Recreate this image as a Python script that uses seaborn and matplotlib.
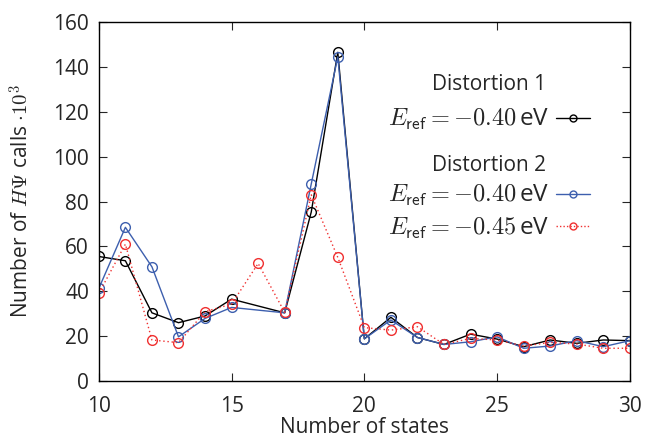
import matplotlib
matplotlib.use("Agg")
import matplotlib.pyplot as plt
import seaborn as sns
import numpy as np
from matplotlib.lines import Line2D

states_d1 = [10, 11, 12, 13, 14, 15, 17, 18, 19, 20, 21, 22, 23, 24, 25, 26, 27, 28, 29, 30]
calls_d1 = [55.5, 53.6, 30.4, 26.0, 29.0, 36.5, 30.4, 75.3, 146.5, 18.8, 28.4, 19.4, 16.3, 20.9, 18.7, 15.3, 18.3, 16.8, 18.3, 18.0]

states_d2a = [10, 11, 12, 13, 14, 15, 17, 18, 19, 20, 21, 22, 23, 24, 25, 26, 27, 28, 29, 30]
calls_d2a = [41.3, 68.5, 50.9, 19.7, 27.9, 32.8, 30.4, 87.8, 144.5, 18.8, 27.2, 19.4, 16.3, 17.5, 19.7, 14.6, 15.6, 18.0, 15.3, 18.0]

states_d2b = [10, 11, 12, 13, 14, 15, 16, 17, 18, 19, 20, 21, 22, 23, 24, 25, 26, 27, 28, 29, 30]
calls_d2b = [39.1, 61.0, 18.3, 17.1, 30.9, 34.3, 52.4, 30.6, 83.0, 55.1, 23.8, 22.7, 24.2, 16.3, 19.0, 18.3, 15.6, 17.2, 16.5, 14.6, 14.6]

label_d1 = r"$E_{\mathsf{ref}} = -0.40\,$eV"
label_d2a = r"$E_{\mathsf{ref}} = -0.40\,$eV"
label_d2b = r"$E_{\mathsf{ref}} = -0.45\,$eV"

sns.set_style("ticks")
plt.rcParams["font.family"] = ["Open Sans", "DejaVu Sans"]
plt.rcParams["mathtext.fontset"] = "cm"

fig = plt.figure(figsize=(6.46, 4.40), dpi=100)
ax = fig.add_axes([0.153, 0.134, 0.822, 0.816])

black = "#000000"
blue = "#3d5fae"
red = "#f03030"

mk = dict(marker="o", markersize=7, mfc="none", mew=1.0)
sns.lineplot(x=states_d1, y=calls_d1, ax=ax, color=black, lw=1.0, mec=black, **mk)
sns.lineplot(x=states_d2a, y=calls_d2a, ax=ax, color=blue, lw=1.0, mec=blue, **mk)
sns.lineplot(x=states_d2b, y=calls_d2b, ax=ax, color=red, lw=1.0, ls=(0, (1, 2)), mec=red, **mk)

ax.set_xlim(10, 30)
ax.set_ylim(0, 160)
ax.set_xticks([10, 15, 20, 25, 30])
ax.set_yticks(np.arange(0, 161, 20))
ax.tick_params(direction="in", top=True, right=True, length=6, width=0.8, labelsize=15, pad=7)
ax.tick_params(axis="x", pad=11)
for s in ax.spines.values():
    s.set_linewidth(1.0)
    s.set_color("black")

ax.set_xlabel("Number of states", fontsize=15, labelpad=0)
ax.set_ylabel(r"Number of $H\Psi$ calls $\cdot 10^3$", fontsize=15, labelpad=14)

hkw = dict(marker="o", markersize=5, mfc="none", mew=1.0, lw=1.0)
h1 = Line2D([], [], color=black, mec=black, **hkw)
h2 = Line2D([], [], color=blue, mec=blue, **hkw)
h3 = Line2D([], [], color=red, mec=red, ls=(0, (1, 1.5)), **hkw)

common = dict(loc="upper right", frameon=False, markerfirst=False,
              fontsize=17.5, title_fontsize=15, handlelength=1.4, handletextpad=0.3,
              borderaxespad=0, borderpad=0)
leg1 = ax.legend([h1], [label_d1], title="Distortion 1",
                 bbox_to_anchor=(0.925, 0.855), **common)
ax.add_artist(leg1)
leg2 = ax.legend([h2, h3], [label_d2a, label_d2b], title="Distortion 2",
                 bbox_to_anchor=(0.925, 0.63), labelspacing=0.3, **common)

fig.savefig("out.png", dpi=100)
